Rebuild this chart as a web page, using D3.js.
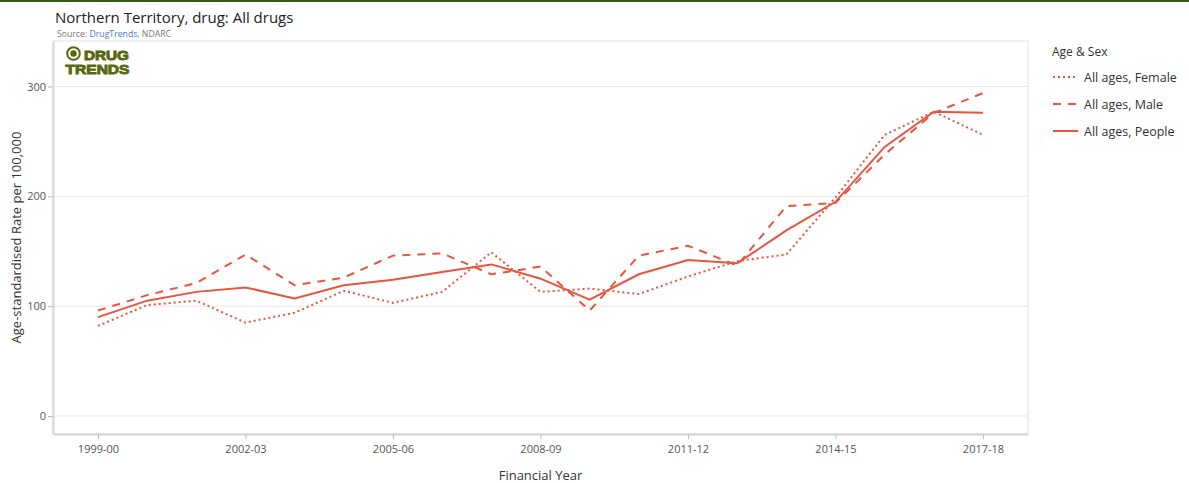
<!DOCTYPE html>
<html>
<head>
<meta charset="utf-8">
<script src="https://cdn.jsdelivr.net/npm/d3@7"></script>
<style>
  body { margin: 0; background: #fff; font-family: "Open Sans", sans-serif; }
  .tick text { fill: #555; font-size: 11px; font-family: "Open Sans", sans-serif; }
</style>
</head>
<body>
<div id="chart"></div>
<script>
// Data
var years = ["1999-00","2000-01","2001-02","2002-03","2003-04","2004-05","2005-06","2006-07","2007-08",
             "2008-09","2009-10","2010-11","2011-12","2012-13","2013-14","2014-15","2015-16","2016-17","2017-18"];
var tickYears = ["1999-00","2002-03","2005-06","2008-09","2011-12","2014-15","2017-18"];
var female = [82, 101, 105, 85, 94, 114, 103, 113, 149, 113, 116, 111, 127, 141, 147, 199, 256, 277, 256];
var male   = [96, 110, 121, 147, 119, 126, 146, 148, 129, 136, 96, 146, 155, 137, 191, 194, 238, 276, 294];
var people = [90, 105, 113, 117, 107, 119, 124, 131, 138, 125, 106, 129, 142, 139, 169, 195, 245, 277, 276];
var seriesNames = ["All ages, Female", "All ages, Male", "All ages, People"];
var yTicks = [0, 100, 200, 300];

var width = 1189, height = 483;
var margin = {top: 41, right: 161, bottom: 49, left: 53};
var w = width - margin.left - margin.right;
var h = height - margin.top - margin.bottom;
var color = "#e8553f";
var olive = "#57680f";
var dashes = ["2,3", "8,7", null];

var svg = d3.select("#chart").append("svg")
    .attr("width", width)
    .attr("height", height);

// top bar
svg.append("rect").attr("x", 0).attr("y", 0).attr("width", width).attr("height", 2).attr("fill", "#35591c");

// Title and source
svg.append("text").attr("x", 55).attr("y", 23)
    .attr("font-size", 15).attr("fill", "#222").text("Northern Territory, drug: All drugs");
var src = svg.append("text").attr("x", 57).attr("y", 37).attr("font-size", 8.7).attr("fill", "#777");
src.append("tspan").text("Source: ");
src.append("tspan").attr("fill", "#4a76d4").text("DrugTrends");
src.append("tspan").text(", NDARC");

var g = svg.append("g").attr("transform", "translate(" + margin.left + "," + margin.top + ")");

var x = d3.scalePoint().domain(years).range([0, w]).padding(0.915);
var y = d3.scaleLinear().domain([-16.4, 341.4]).range([h, 0]);

// frame
g.append("rect").attr("x", 0).attr("y", 0).attr("width", w).attr("height", h)
    .attr("fill", "none").attr("stroke", "#e2e2e2");

// gridlines
g.selectAll(".grid").data(yTicks).enter().append("line")
    .attr("x1", 0).attr("x2", w)
    .attr("y1", function(d) { return y(d); }).attr("y2", function(d) { return y(d); })
    .attr("stroke", "#e6e6e6");

// axes
var yAxis = g.append("g").call(d3.axisLeft(y).tickValues(yTicks).tickSize(5).tickSizeOuter(0).tickPadding(2));
yAxis.select(".domain").attr("stroke", "#d6d6d6").attr("stroke-width", 2);
yAxis.selectAll(".tick line").attr("stroke", "#bbb");

var xAxis = g.append("g").attr("transform", "translate(0," + h + ")")
    .call(d3.axisBottom(x).tickValues(tickYears).tickSize(5).tickSizeOuter(0).tickPadding(6));
xAxis.select(".domain").attr("stroke", "#d6d6d6").attr("stroke-width", 2);
xAxis.selectAll(".tick line").attr("stroke", "#bbb");

// axis titles
svg.append("text")
    .attr("transform", "translate(21," + (margin.top + h / 2) + ") rotate(-90)")
    .attr("text-anchor", "middle").attr("font-size", 13).attr("fill", "#333")
    .text("Age-standardised Rate per 100,000");
svg.append("text").attr("x", margin.left + w / 2).attr("y", 480)
    .attr("text-anchor", "middle").attr("font-size", 13).attr("fill", "#333")
    .text("Financial Year");

// lines
var line = d3.line()
    .x(function(d, i) { return x(years[i]); })
    .y(function(d) { return y(d); });

[female, male, people].forEach(function(s, k) {
    g.append("path")
        .attr("d", line(s))
        .attr("fill", "none")
        .attr("stroke", color)
        .attr("stroke-width", 2)
        .attr("stroke-dasharray", dashes[k]);
});

// logo
var logo = svg.append("g").attr("transform", "translate(65,47)");
logo.append("circle").attr("cx", 8.5).attr("cy", 6.5).attr("r", 6.3)
    .attr("fill", "none").attr("stroke", olive).attr("stroke-width", 2);
logo.append("circle").attr("cx", 8.5).attr("cy", 6.5).attr("r", 3.2).attr("fill", olive);
var logoFont = "Liberation Sans, Arial, sans-serif";
logo.append("text").attr("x", 19).attr("y", 12.5)
    .attr("font-family", logoFont).attr("font-weight", "bold")
    .attr("font-size", 13.2).attr("fill", olive).attr("stroke", olive).attr("stroke-width", 0.9)
    .attr("textLength", 45).attr("lengthAdjust", "spacingAndGlyphs").text("DRUG");
logo.append("text").attr("x", 0.5).attr("y", 27.3)
    .attr("font-family", logoFont).attr("font-weight", "bold")
    .attr("font-size", 13.2).attr("fill", olive).attr("stroke", olive).attr("stroke-width", 0.9)
    .attr("textLength", 64).attr("lengthAdjust", "spacingAndGlyphs").text("TRENDS");

// legend
var legend = svg.append("g").attr("transform", "translate(1052,0)");
legend.append("text").attr("x", 0).attr("y", 56).attr("font-size", 12).attr("fill", "#333").text("Age & Sex");
seriesNames.forEach(function(n, k) {
    var yy = 77 + k * 27;
    legend.append("line").attr("x1", 1).attr("x2", 26).attr("y1", yy).attr("y2", yy)
        .attr("stroke", color).attr("stroke-width", 2).attr("stroke-dasharray", dashes[k]);
    legend.append("text").attr("x", 32).attr("y", yy + 4.5).attr("font-size", 12.5).attr("fill", "#333").text(n);
});
</script>
</body>
</html>
